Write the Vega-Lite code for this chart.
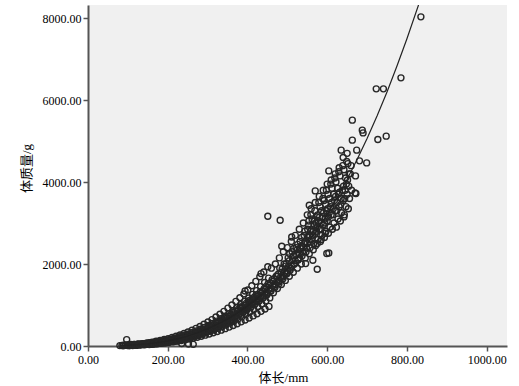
{
  "$schema": "https://vega.github.io/schema/vega-lite/v6.json",
  "width": 419,
  "height": 341,
  "autosize": "none",
  "padding": {"left": 88, "top": 5, "right": 12, "bottom": 40},
  "background": "white",
  "config": {
    "view": {"fill": "#f0f0f0", "stroke": null},
    "axis": {
      "grid": false,
      "labelFont": "Liberation Serif",
      "labelFontSize": 12,
      "labelColor": "#000",
      "labelFlush": false,
      "titleFont": "Liberation Serif, Noto Sans CJK SC",
      "titleFontSize": 13,
      "titleFontWeight": "normal",
      "titleColor": "#000",
      "domainColor": "#555",
      "domainWidth": 2,
      "tickColor": "#555",
      "tickWidth": 1.5,
      "tickSize": 5
    }
  },
  "datasets": {
    "curve": [
      {"len": 80, "wt": 8.6}, {"len": 100, "wt": 16.6}, {"len": 125, "wt": 31.9}, {"len": 150, "wt": 54.6},
      {"len": 175, "wt": 85.9}, {"len": 200, "wt": 127}, {"len": 225, "wt": 180}, {"len": 250, "wt": 245},
      {"len": 275, "wt": 324}, {"len": 300, "wt": 419}, {"len": 325, "wt": 530}, {"len": 350, "wt": 659},
      {"len": 375, "wt": 807}, {"len": 400, "wt": 976}, {"len": 425, "wt": 1166}, {"len": 450, "wt": 1380},
      {"len": 475, "wt": 1618}, {"len": 500, "wt": 1882}, {"len": 525, "wt": 2171}, {"len": 550, "wt": 2491},
      {"len": 575, "wt": 2839}, {"len": 600, "wt": 3217}, {"len": 625, "wt": 3627}, {"len": 650, "wt": 4070},
      {"len": 675, "wt": 4549}, {"len": 700, "wt": 5061}, {"len": 725, "wt": 5610}, {"len": 750, "wt": 6199},
      {"len": 775, "wt": 6832}, {"len": 800, "wt": 7496}, {"len": 829, "wt": 8318}, {"len": 850, "wt": 8955}
    ],
    "fish": [
      {"len":80,"wt":10},{"len":85,"wt":15},{"len":88,"wt":5},{"len":90,"wt":20},{"len":95,"wt":25},{"len":97,"wt":156},{"len":100,"wt":18},{"len":102,"wt":8},{"len":105,"wt":30},{"len":110,"wt":22},{"len":112,"wt":10},{"len":115,"wt":35},{"len":120,"wt":28},{"len":122,"wt":15},{"len":125,"wt":45},{"len":130,"wt":38},{"len":132,"wt":25},{"len":135,"wt":50},{"len":140,"wt":42},{"len":142,"wt":30},{"len":145,"wt":60},{"len":150,"wt":55},{"len":152,"wt":40},{"len":155,"wt":70},{"len":160,"wt":58},{"len":162,"wt":45},{"len":165,"wt":80},{"len":170,"wt":72},{"len":172,"wt":55},{"len":175,"wt":95},{"len":180,"wt":85},{"len":182,"wt":65},{"len":185,"wt":110},{"len":190,"wt":100},{"len":192,"wt":80},{"len":195,"wt":125},{"len":200,"wt":115},{"len":202,"wt":95},{"len":205,"wt":140},{"len":210,"wt":130},{"len":212,"wt":110},{"len":215,"wt":160},{"len":220,"wt":150},{"len":222,"wt":125},{"len":225,"wt":185},{"len":230,"wt":170},{"len":232,"wt":145},{"len":235,"wt":60},{"len":240,"wt":200},{"len":242,"wt":170},{"len":245,"wt":235},{"len":250,"wt":220},{"len":252,"wt":50},{"len":255,"wt":270},{"len":258,"wt":200},{"len":260,"wt":250},{"len":264,"wt":40},{"len":265,"wt":300},{"len":268,"wt":230},{"len":270,"wt":280},{"len":275,"wt":335},{"len":278,"wt":270},{"len":280,"wt":310},{"len":285,"wt":370},{"len":288,"wt":300},{"len":290,"wt":350},{"len":295,"wt":400},{"len":298,"wt":340},{"len":300,"wt":390},{"len":302,"wt":480},{"len":305,"wt":455},{"len":308,"wt":380},{"len":310,"wt":430},{"len":315,"wt":500},{"len":318,"wt":420},{"len":320,"wt":470},{"len":322,"wt":560},{"len":325,"wt":560},{"len":328,"wt":480},{"len":330,"wt":520},{"len":335,"wt":600},{"len":338,"wt":530},{"len":340,"wt":570},{"len":342,"wt":680},{"len":345,"wt":660},{"len":348,"wt":580},{"len":350,"wt":620},{"len":355,"wt":720},{"len":358,"wt":640},{"len":360,"wt":690},{"len":362,"wt":603},{"len":364,"wt":820},{"len":365,"wt":780},{"len":368,"wt":700},{"len":370,"wt":740},{"len":375,"wt":850},{"len":378,"wt":760},{"len":380,"wt":800},{"len":382,"wt":950},{"len":385,"wt":920},{"len":388,"wt":830},{"len":390,"wt":870},{"len":394,"wt":1342},{"len":395,"wt":990},{"len":398,"wt":880},{"len":400,"wt":940},{"len":402,"wt":1100},{"len":405,"wt":1060},{"len":408,"wt":950},{"len":410,"wt":1010},{"len":412,"wt":1150},{"len":415,"wt":1130},{"len":418,"wt":1020},{"len":420,"wt":1080},{"len":422,"wt":1250},{"len":425,"wt":1210},{"len":428,"wt":1100},{"len":430,"wt":1150},{"len":432,"wt":1320},{"len":434,"wt":1767},{"len":435,"wt":1290},{"len":438,"wt":1180},{"len":440,"wt":1230},{"len":442,"wt":1400},{"len":445,"wt":1380},{"len":448,"wt":1260},{"len":450,"wt":1310},{"len":451,"wt":3166},{"len":452,"wt":1520},{"len":455,"wt":1480},{"len":458,"wt":1350},{"len":460,"wt":1400},{"len":462,"wt":1620},{"len":465,"wt":1580},{"len":468,"wt":1450},{"len":470,"wt":1500},{"len":472,"wt":1700},{"len":475,"wt":1700},{"len":478,"wt":1560},{"len":480,"wt":1600},{"len":481,"wt":1900},{"len":482,"wt":3069},{"len":485,"wt":1800},{"len":486,"wt":2434},{"len":488,"wt":1680},{"len":490,"wt":1720},{"len":492,"wt":2000},{"len":495,"wt":1950},{"len":498,"wt":1780},{"len":500,"wt":1830},{"len":502,"wt":2150},{"len":505,"wt":2080},{"len":507,"wt":1850},{"len":510,"wt":1950},{"len":511,"wt":2661},{"len":512,"wt":2300},{"len":515,"wt":2200},{"len":517,"wt":2000},{"len":520,"wt":2080},{"len":522,"wt":2400},{"len":525,"wt":2350},{"len":527,"wt":2100},{"len":530,"wt":2250},{"len":532,"wt":2550},{"len":535,"wt":2450},{"len":537,"wt":2200},{"len":540,"wt":2400},{"len":542,"wt":2700},{"len":545,"wt":2550},{"len":546,"wt":2011},{"len":547,"wt":2300},{"len":550,"wt":2500},{"len":551,"wt":2850},{"len":553,"wt":2950},{"len":555,"wt":2700},{"len":555,"wt":3435},{"len":557,"wt":2400},{"len":560,"wt":2600},{"len":561,"wt":2850},{"len":562,"wt":3100},{"len":564,"wt":2092},{"len":565,"wt":2800},{"len":566,"wt":2500},{"len":568,"wt":3050},{"len":570,"wt":2750},{"len":570,"wt":3784},{"len":571,"wt":2450},{"len":572,"wt":3000},{"len":575,"wt":2900},{"len":575,"wt":1873},{"len":576,"wt":3200},{"len":577,"wt":2600},{"len":580,"wt":2850},{"len":581,"wt":3150},{"len":582,"wt":3400},{"len":583,"wt":2550},{"len":585,"wt":3000},{"len":586,"wt":3300},{"len":587,"wt":2700},{"len":590,"wt":2950},{"len":591,"wt":3250},{"len":592,"wt":3550},{"len":593,"wt":2650},{"len":595,"wt":3100},{"len":596,"wt":3450},{"len":597,"wt":2800},{"len":599,"wt":2256},{"len":600,"wt":3050},{"len":601,"wt":3350},{"len":602,"wt":3700},{"len":603,"wt":2750},{"len":604,"wt":2270},{"len":604,"wt":4272},{"len":605,"wt":3250},{"len":606,"wt":3600},{"len":607,"wt":2900},{"len":610,"wt":3200},{"len":611,"wt":3500},{"len":612,"wt":3850},{"len":613,"wt":2850},{"len":615,"wt":3350},{"len":616,"wt":3700},{"len":617,"wt":3000},{"len":620,"wt":3300},{"len":621,"wt":3650},{"len":622,"wt":4000},{"len":623,"wt":2900},{"len":625,"wt":3500},{"len":626,"wt":3850},{"len":627,"wt":3100},{"len":630,"wt":3400},{"len":631,"wt":3750},{"len":632,"wt":4150},{"len":633,"wt":3050},{"len":635,"wt":3600},{"len":635,"wt":4778},{"len":636,"wt":3250},{"len":640,"wt":3550},{"len":641,"wt":3900},{"len":642,"wt":4300},{"len":642,"wt":3150},{"len":643,"wt":3200},{"len":645,"wt":3800},{"len":646,"wt":4100},{"len":647,"wt":3400},{"len":650,"wt":3700},{"len":651,"wt":4050},{"len":652,"wt":4450},{"len":653,"wt":3350},{"len":655,"wt":4200},{"len":656,"wt":3600},{"len":660,"wt":4400},{"len":661,"wt":3800},{"len":663,"wt":5022},{"len":663,"wt":5510},{"len":670,"wt":3735},{"len":671,"wt":4150},{"len":672,"wt":3720},{"len":674,"wt":4778},{"len":681,"wt":4517},{"len":688,"wt":5267},{"len":690,"wt":5200},{"len":699,"wt":4468},{"len":723,"wt":6274},{"len":727,"wt":5039},{"len":741,"wt":6274},{"len":748,"wt":5120},{"len":785,"wt":6543},{"len":835,"wt":8031},
      {"len":101,"wt":25},{"len":104,"wt":12},{"len":107,"wt":35},{"len":109,"wt":18},{"len":113,"wt":28},{"len":117,"wt":40},{"len":119,"wt":20},{"len":123,"wt":38},{"len":127,"wt":50},{"len":129,"wt":30},{"len":133,"wt":45},{"len":137,"wt":58},{"len":139,"wt":35},{"len":143,"wt":52},{"len":147,"wt":68},{"len":149,"wt":42},{"len":153,"wt":62},{"len":157,"wt":78},{"len":159,"wt":50},{"len":163,"wt":72},{"len":167,"wt":90},{"len":169,"wt":60},{"len":173,"wt":82},{"len":177,"wt":102},{"len":179,"wt":70},{"len":183,"wt":95},{"len":187,"wt":118},{"len":189,"wt":85},{"len":193,"wt":108},{"len":197,"wt":135},{"len":199,"wt":100},{"len":203,"wt":125},{"len":207,"wt":152},{"len":209,"wt":115},{"len":213,"wt":140},{"len":217,"wt":172},{"len":219,"wt":130},{"len":223,"wt":160},{"len":227,"wt":198},{"len":229,"wt":150},{"len":233,"wt":185},{"len":237,"wt":220},{"len":239,"wt":170},{"len":243,"wt":210},{"len":247,"wt":250},{"len":249,"wt":195},{"len":253,"wt":240},{"len":257,"wt":285},{"len":259,"wt":225},{"len":263,"wt":270},{"len":267,"wt":320},{"len":269,"wt":255},{"len":273,"wt":305},{"len":277,"wt":355},{"len":279,"wt":290},{"len":283,"wt":340},{"len":287,"wt":395},{"len":289,"wt":320},{"len":293,"wt":375},{"len":297,"wt":430},{"len":299,"wt":360},{"len":303,"wt":420},{"len":307,"wt":475},{"len":309,"wt":400},{"len":313,"wt":460},{"len":317,"wt":530},{"len":319,"wt":445},{"len":323,"wt":510},{"len":327,"wt":585},{"len":329,"wt":490},{"len":333,"wt":560},{"len":337,"wt":640},{"len":339,"wt":540},{"len":343,"wt":610},{"len":347,"wt":700},{"len":349,"wt":590},{"len":353,"wt":670},{"len":357,"wt":760},{"len":359,"wt":640},{"len":363,"wt":730},{"len":367,"wt":820},{"len":369,"wt":700},{"len":373,"wt":790},{"len":377,"wt":890},{"len":379,"wt":760},{"len":383,"wt":860},{"len":387,"wt":960},{"len":389,"wt":820},{"len":393,"wt":930},{"len":397,"wt":1040},{"len":399,"wt":900},
      {"len":403,"wt":990},{"len":407,"wt":1120},{"len":409,"wt":960},{"len":413,"wt":1070},{"len":417,"wt":1190},{"len":419,"wt":1030},{"len":423,"wt":1130},{"len":427,"wt":1260},{"len":429,"wt":1100},{"len":433,"wt":1210},{"len":437,"wt":1340},{"len":439,"wt":1170},{"len":443,"wt":1290},{"len":447,"wt":1450},{"len":449,"wt":1250},{"len":453,"wt":1380},{"len":457,"wt":1540},{"len":459,"wt":1340},{"len":463,"wt":1470},{"len":467,"wt":1640},{"len":469,"wt":1430},{"len":473,"wt":1570},{"len":477,"wt":1750},{"len":479,"wt":1520},{"len":483,"wt":1680},{"len":487,"wt":1880},{"len":489,"wt":1640},{"len":493,"wt":1790},{"len":497,"wt":2010},{"len":499,"wt":1760},
      {"len":503,"wt":1950},{"len":506,"wt":2250},{"len":508,"wt":1900},{"len":513,"wt":2100},{"len":516,"wt":2380},{"len":518,"wt":2000},{"len":523,"wt":2230},{"len":526,"wt":2480},{"len":528,"wt":2150},{"len":533,"wt":2380},{"len":536,"wt":2650},{"len":538,"wt":2300},{"len":543,"wt":2500},{"len":544,"wt":2800},{"len":548,"wt":2400},{"len":552,"wt":2650},{"len":554,"wt":3050},{"len":556,"wt":2550},{"len":558,"wt":2800},{"len":559,"wt":3200},{"len":563,"wt":2700},{"len":567,"wt":2950},{"len":569,"wt":3300},{"len":573,"wt":2800},{"len":574,"wt":3150},{"len":578,"wt":3050},{"len":579,"wt":3500},{"len":584,"wt":2850},{"len":588,"wt":3150},{"len":589,"wt":3600},{"len":594,"wt":3000},{"len":598,"wt":3300},{"len":598,"wt":3800},{"len":603,"wt":3150},{"len":608,"wt":3400},{"len":609,"wt":3950},{"len":614,"wt":3200},{"len":618,"wt":3550},{"len":619,"wt":4100},{"len":624,"wt":3300},{"len":628,"wt":3700},{"len":629,"wt":4250},{"len":634,"wt":3450},{"len":638,"wt":3800},{"len":639,"wt":4400},{"len":644,"wt":3600},{"len":648,"wt":3950},{"len":649,"wt":4500},{"len":654,"wt":3900},{"len":658,"wt":4200},
      {"len":151,"wt":77},{"len":161,"wt":95},{"len":171,"wt":115},{"len":181,"wt":136},{"len":191,"wt":160},{"len":201,"wt":178},{"len":211,"wt":206},{"len":221,"wt":237},{"len":231,"wt":270},{"len":241,"wt":305},{"len":251,"wt":343},{"len":261,"wt":385},{"len":271,"wt":430},{"len":281,"wt":477},{"len":291,"wt":529},{"len":301,"wt":587},{"len":311,"wt":644},{"len":321,"wt":707},{"len":331,"wt":774},{"len":341,"wt":846},{"len":351,"wt":923},{"len":361,"wt":1002},{"len":371,"wt":1088},{"len":381,"wt":1179},{"len":391,"wt":1270},{"len":401,"wt":1366},{"len":411,"wt":1470},{"len":421,"wt":1576},{"len":431,"wt":1690},{"len":441,"wt":1807},{"len":451,"wt":1932},
      {"len":154,"wt":38},{"len":164,"wt":48},{"len":174,"wt":57},{"len":184,"wt":68},{"len":194,"wt":80},{"len":204,"wt":89},{"len":214,"wt":103},{"len":224,"wt":118},{"len":234,"wt":135},{"len":244,"wt":153},{"len":254,"wt":172},{"len":264,"wt":193},{"len":274,"wt":215},{"len":284,"wt":239},{"len":294,"wt":265},{"len":304,"wt":293},{"len":314,"wt":322},{"len":324,"wt":354},{"len":334,"wt":387},{"len":344,"wt":423},{"len":354,"wt":461},{"len":364,"wt":501},{"len":374,"wt":544},{"len":384,"wt":589},{"len":394,"wt":635},{"len":404,"wt":683},{"len":414,"wt":735},{"len":424,"wt":788},{"len":434,"wt":845},{"len":444,"wt":904},{"len":454,"wt":966},
      {"len":153,"wt":66},{"len":163,"wt":82},{"len":173,"wt":98},{"len":183,"wt":116},{"len":193,"wt":137},{"len":203,"wt":152},{"len":213,"wt":176},{"len":223,"wt":203},{"len":233,"wt":232},{"len":243,"wt":262},{"len":253,"wt":294},{"len":263,"wt":330},{"len":273,"wt":368},{"len":283,"wt":409},{"len":293,"wt":454},{"len":303,"wt":503},{"len":313,"wt":552},{"len":323,"wt":606},{"len":333,"wt":664},{"len":343,"wt":725},{"len":353,"wt":791},{"len":363,"wt":859},{"len":373,"wt":932},{"len":383,"wt":1010},{"len":393,"wt":1088},{"len":403,"wt":1171},{"len":413,"wt":1260},{"len":423,"wt":1351},{"len":433,"wt":1448},{"len":443,"wt":1549},{"len":453,"wt":1656},
      {"len":156,"wt":47},{"len":166,"wt":58},{"len":176,"wt":70},{"len":186,"wt":82},{"len":196,"wt":97},{"len":206,"wt":108},{"len":216,"wt":125},{"len":226,"wt":144},{"len":236,"wt":164},{"len":246,"wt":185},{"len":256,"wt":208},{"len":266,"wt":234},{"len":276,"wt":261},{"len":286,"wt":290},{"len":296,"wt":321},{"len":306,"wt":356},{"len":316,"wt":391},{"len":326,"wt":429},{"len":336,"wt":470},{"len":346,"wt":513},{"len":356,"wt":560},{"len":366,"wt":609},{"len":376,"wt":660},{"len":386,"wt":716},{"len":396,"wt":771},{"len":406,"wt":830},{"len":416,"wt":893},{"len":426,"wt":957},{"len":436,"wt":1026},{"len":446,"wt":1097},{"len":456,"wt":1173},
      {"len":460,"wt":1900},{"len":465,"wt":1300},{"len":470,"wt":2000},{"len":475,"wt":1400},{"len":480,"wt":2150},{"len":485,"wt":1500},{"len":490,"wt":2300},{"len":495,"wt":1600},{"len":500,"wt":2400},{"len":505,"wt":1700},{"len":510,"wt":2550},{"len":515,"wt":1800},{"len":520,"wt":2700},{"len":525,"wt":1900},{"len":530,"wt":2850},{"len":535,"wt":2000},{"len":540,"wt":3000},{"len":545,"wt":2150},{"len":550,"wt":3200},{"len":555,"wt":2250},{"len":560,"wt":3350},{"len":565,"wt":2350},{"len":570,"wt":3500},{"len":575,"wt":2500},{"len":580,"wt":3650},{"len":585,"wt":2600},{"len":590,"wt":3800},{"len":595,"wt":2750},{"len":600,"wt":3950},{"len":610,"wt":4050},{"len":620,"wt":4200},{"len":630,"wt":4350},{"len":640,"wt":4600},{"len":650,"wt":4700}
    ]
  },
  "encoding": {
    "x": {
      "field": "len", "type": "quantitative",
      "scale": {"domain": [0, 1051], "nice": false, "zero": false},
      "axis": {"values": [0, 200, 400, 600, 800, 1000], "format": ".2f", "title": "体长/mm", "labelPadding": 3, "titlePadding": 6, "titleX": 195, "titleAlign": "center"}
    },
    "y": {
      "field": "wt", "type": "quantitative",
      "scale": {"domain": [0, 8320], "nice": false, "zero": false},
      "axis": {"values": [0, 2000, 4000, 6000, 8000], "format": ".2f", "title": "体质量/g", "labelPadding": 2, "titlePadding": 9, "titleY": 163}
    }
  },
  "layer": [
    {
      "data": {"name": "fish"},
      "mark": {"type": "point", "shape": "circle", "filled": false, "stroke": "#262626", "strokeWidth": 1.4, "size": 36, "opacity": 1}
    },
    {
      "data": {"name": "curve"},
      "mark": {"type": "line", "color": "#222", "strokeWidth": 1.2, "clip": true}
    }
  ]
}
